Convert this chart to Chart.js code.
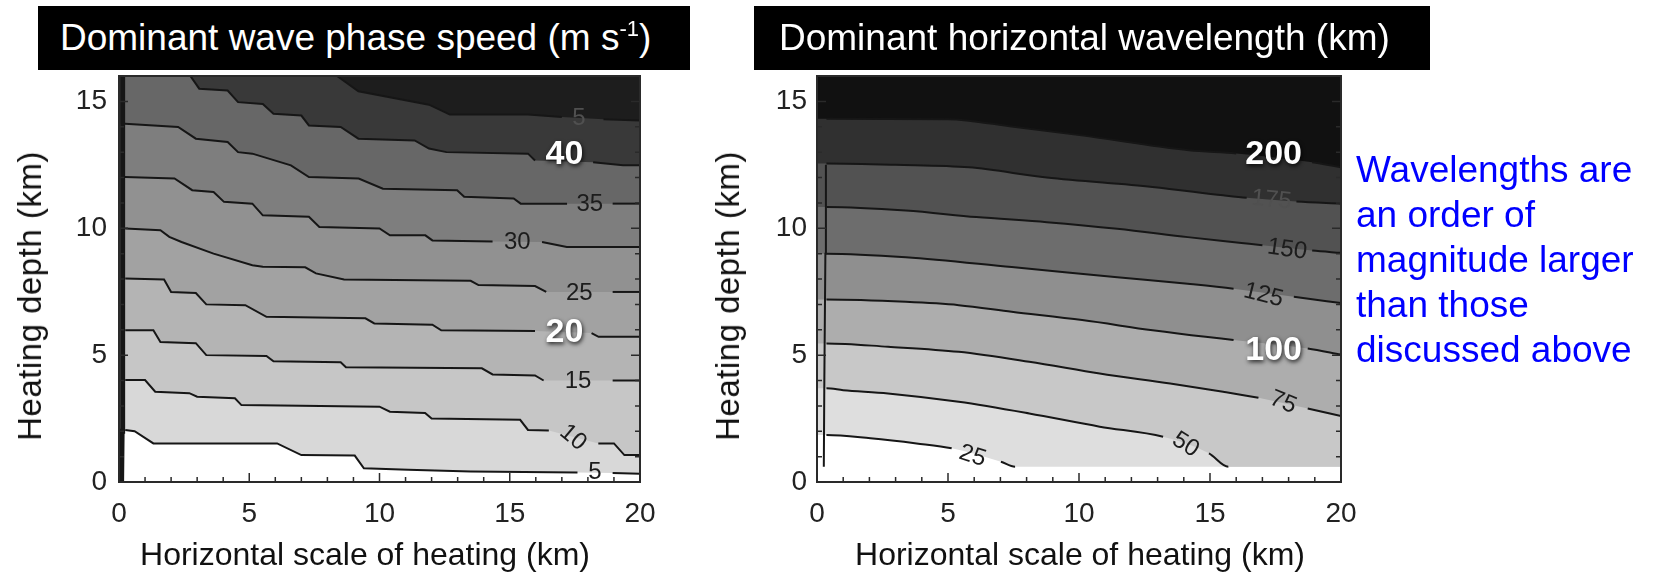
<!DOCTYPE html>
<html>
<head>
<meta charset="utf-8">
<script src="https://cdn.jsdelivr.net/npm/chart.js@4.4.1/dist/chart.umd.min.js"></script>
<style>
  html, body { margin:0; padding:0; background:#fff; }
  body { position:relative; width:1660px; height:580px; overflow:hidden; font-family:'Liberation Sans', Arial, sans-serif; }
  canvas { position:absolute; top:0; }
  .tb { position:absolute; top:6px; height:64px; background:#000; color:#fff; font-size:37px; line-height:64px; white-space:nowrap; box-sizing:border-box; }
  .sup { font-size:22px; position:relative; top:-14px; }
  .xt { position:absolute; font-size:32px; line-height:36px; color:#111; white-space:nowrap; transform:translateX(-50%); }
  .yt { position:absolute; font-size:33px; line-height:36px; color:#111; white-space:nowrap; letter-spacing:0.5px; transform:translate(-50%,-50%) rotate(-90deg); }
  .note { position:absolute; left:1356px; top:147px; font-size:37px; line-height:45px; color:#0000ff; white-space:nowrap; }
</style>
</head>
<body>
<canvas id="c1" width="700" height="580" style="left:0;width:700px;height:580px"></canvas>
<canvas id="c2" width="700" height="580" style="left:700px;width:700px;height:580px"></canvas>

<div class="tb" style="left:38px;width:652px;padding-left:22px;">Dominant wave phase speed (m s<span class="sup">-1</span>)</div>
<div class="tb" style="left:754px;width:676px;padding-left:25px;">Dominant horizontal wavelength (km)</div>

<div class="xt" style="left:365px;top:536px;">Horizontal scale of heating (km)</div>
<div class="xt" style="left:1080px;top:536px;">Horizontal scale of heating (km)</div>
<div class="yt" style="left:30px;top:296px;">Heating depth (km)</div>
<div class="yt" style="left:728px;top:296px;">Heating depth (km)</div>

<div class="note">Wavelengths are<br>an order of<br>magnitude larger<br>than those<br>discussed above</div>

<script>
// ---------- axes ----------
const xTickValues = [0, 5, 10, 15, 20];
const yTickValues = [0, 5, 10, 15];
const xRange = [0, 20];
const yRange = [0, 16];

// ---------- left panel: dominant wave phase speed (m/s) ----------
const speedLevels = [5, 10, 15, 20, 25, 30, 35, 40, 45];
const speedC5  = [[0,2.05],[0.24,2.05],[0.6,2.0],[1.32,1.52],[6.07,1.52],[7.0,1.06],[9.05,1.04],[9.4,0.54],[11.1,0.48],[13.5,0.41],[17.6,0.37],[18.95,0.35],[20,0.33]];
const speedC10 = [[0,4.02],[0.24,4.02],[1.0,4.02],[1.39,3.56],[2.7,3.5],[3.0,3.36],[4.45,3.3],[4.7,3.03],[10.0,2.97],[10.4,2.77],[11.75,2.72],[12.0,2.5],[15.4,2.45],[15.7,2.05],[16.5,2.03],[18.4,1.52],[19.0,1.52],[19.4,1.06],[20,1.06]];
const speedC15 = [[0,5.98],[0.24,5.98],[1.32,5.98],[1.59,5.52],[2.95,5.47],[3.35,5.0],[5.66,4.97],[5.93,4.76],[8.51,4.72],[8.71,4.52],[13.93,4.48],[14.34,4.24],[15.97,4.2],[16.3,4.0],[18.95,4.0],[20,4.0]];
const speedC20 = [[0,8.02],[0.24,8.02],[1.73,7.98],[2.0,7.49],[2.95,7.45],[3.35,7.0],[4.85,6.97],[5.66,6.51],[9.46,6.45],[9.8,6.25],[12.03,6.2],[12.37,5.98],[15.97,5.95],[18.14,5.87],[18.41,5.72],[20,5.72]];
const speedC25 = [[0,9.99],[0.24,9.99],[1.59,9.92],[1.93,9.66],[2.4,9.46],[3.63,9.0],[5.12,8.54],[5.52,8.48],[7.15,8.46],[7.56,8.22],[8.64,7.98],[13.5,7.93],[13.8,7.76],[15.97,7.72],[16.4,7.49],[18.95,7.49],[20,7.49]];
const speedC30 = [[0,12.02],[0.23,12.02],[2.13,11.96],[2.81,11.5],[3.63,11.43],[4.03,11.04],[5.12,10.97],[5.52,10.51],[7.29,10.45],[7.69,10.05],[10.0,9.99],[10.4,9.72],[11.76,9.72],[12.03,9.52],[14.34,9.48],[16.24,9.46],[17.19,9.26],[20,9.26]];
const speedC35 = [[0,14.12],[0.23,14.12],[2.27,13.99],[2.95,13.53],[4.17,13.4],[4.57,13.0],[5.12,12.94],[6.6,12.48],[7.29,12.02],[9.2,11.96],[10.13,11.56],[12.98,11.5],[13.25,11.24],[15.15,11.17],[15.42,10.97],[17.2,10.97],[18.95,10.97],[20,10.97]];
const speedC40 = [[2.74,16],[3.08,15.5],[4.17,15.43],[4.57,14.97],[5.52,14.9],[5.93,14.51],[7.0,14.44],[7.29,14.05],[8.51,13.99],[9.19,13.53],[11.35,13.46],[11.9,13.14],[12.57,13.0],[15.7,12.94],[15.97,12.67],[18.2,12.6],[19.35,12.48],[20,12.48]];
const speedC45 = [[8.37,16],[9.19,15.4],[11.9,14.87],[12.7,14.48],[15.7,14.48],[17.0,14.38],[18.6,14.3],[20,14.25]];
const speedContours = [speedC5, speedC10, speedC15, speedC20, speedC25, speedC30, speedC35, speedC40, speedC45];
const speedGaps = [[17.6,18.95],[16.5,18.4],[16.3,18.95],[15.97,18.14],[16.4,18.95],[14.34,16.24],[17.2,18.95],[15.97,18.2],[17.0,18.6]];
const speedEdge = [[0.1,0.0],[0.12,2.0],[0.14,5.5],[0.14,16]];
const speedLabels = [['5',18.27,0.4,0],['10',17.45,1.78,40],['15',17.62,4.0,0],['25',17.67,7.49,0],['30',15.29,9.47,0],['35',18.07,11.0,0],['5',17.66,14.38,0]];
const speedHighlights = [['40',17.1,12.93],['20',17.1,5.93]];

// ---------- right panel: dominant horizontal wavelength (km) ----------
const waveLevels = [25, 50, 75, 100, 125, 150, 175, 200];
const waveC25  = [[0,1.85],[0.36,1.85],[2.04,1.72],[3.8,1.52],[5.14,1.33],[7.02,0.8],[7.56,0.6]];
const waveC50  = [[0,3.69],[0.36,3.69],[1.0,3.62],[2.71,3.49],[5.41,3.16],[8.1,2.7],[10.79,2.18],[13.21,1.78],[14.96,1.13],[15.7,0.6]];
const waveC75  = [[0,5.46],[0.36,5.46],[2.71,5.33],[5.41,5.13],[8.1,4.74],[10.79,4.28],[13.48,3.88],[15.5,3.56],[16.85,3.32],[18.73,2.9],[20,2.6]];
const waveC100 = [[0,7.19],[0.36,7.19],[3.39,7.1],[5.41,6.97],[7.43,6.71],[10.12,6.38],[12.81,5.98],[14.83,5.72],[15.9,5.6],[18.73,5.26],[20,5.02]];
const waveC125 = [[0,9.0],[0.36,9.0],[3.39,8.86],[7.43,8.47],[11.46,8.07],[14.15,7.81],[15.9,7.62],[18.2,7.3],[20,7.05]];
const waveC150 = [[0,10.84],[0.36,10.84],[3.39,10.7],[6.08,10.44],[8.77,10.24],[11.46,9.98],[14.15,9.65],[16.2,9.42],[17.0,9.33],[18.9,9.12],[20,9.03]];
const waveC175 = [[0,12.55],[0.36,12.55],[3.0,12.5],[5.8,12.4],[8.77,12.0],[12.8,11.63],[15.5,11.3],[16.4,11.2],[18.3,11.05],[20,10.97]];
const waveC200 = [[0,14.32],[0.36,14.32],[5.0,14.3],[7.5,14.0],[10.1,13.66],[14.2,13.07],[16.0,12.95],[18.9,12.6],[20,12.4]];
const waveContours = [waveC25, waveC50, waveC75, waveC100, waveC125, waveC150, waveC175, waveC200];
const waveGaps = [[5.14,7.02],[13.21,14.96],[16.85,18.73],[15.9,18.73],[15.9,18.2],[17.0,18.9],[16.4,18.3],[16.0,18.9]];
const waveFloor = 0.6;
const waveEdge = [[0.26,0.6],[0.28,4.0],[0.32,9.0],[0.34,12.5]];
const waveLabels = [['25',5.95,1.06,18],['50',14.09,1.5,32],['75',17.8,3.18,22],['125',17.05,7.4,14],['150',17.95,9.2,8],['175',17.35,11.15,6]];
const waveHighlights = [['200',17.43,12.93],['100',17.43,5.22]];

// ---------- styles ----------
const speedBandColors = ['#d8d8d8','#c6c6c6','#b4b4b4','#a2a2a2','#919191','#7e7e7e','#676767','#393939','#1d1d1d'];
const waveBandColors  = ['#dedede','#c8c8c8','#adadad','#8f8f8f','#6d6d6d','#525252','#303030','#111111'];
const LINE = '#161616';
const FONT = "'Liberation Sans', Arial, sans-serif";
Chart.defaults.font.family = FONT;

const TRANSPARENT = 'rgba(0,0,0,0)';

// Each contour gives two datasets: a fill-only band (filled up to the top of the
// plot) and a stroke-only contour line with gaps where its label sits.
function contourDatasets(levels, contours, gaps, colors, edgeX, floorY, smooth) {
  const n = levels.length;
  const out = [];
  contours.forEach((pts, i) => {
    const data = pts.map(p => ({ x: p[0], y: p[1] }));
    if (floorY !== null && pts[pts.length - 1][1] <= floorY + 1e-9) data.push({ x: xRange[1], y: floorY });
    const gap = gaps[i];
    const common = {
      data, showLine: true, pointRadius: 0, pointHoverRadius: 0, tension: 0,
      cubicInterpolationMode: smooth ? 'monotone' : 'default'
    };
    out.push(Object.assign({}, common, {
      label: 'band ' + levels[i],
      borderWidth: 0, borderColor: TRANSPARENT,
      backgroundColor: colors[i], fill: 'end',
      order: 2 * (n - i) + 2
    }));
    out.push(Object.assign({}, common, {
      label: String(levels[i]),
      borderWidth: 2, borderColor: LINE, fill: false,
      order: 2 * (n - i) + 1,
      segment: {
        borderColor: ctx => {
          const a = ctx.p0.parsed, b = ctx.p1.parsed;
          if (b.x <= edgeX) return TRANSPARENT;
          if (floorY !== null && a.y <= floorY + 1e-9 && b.y <= floorY + 1e-9) return TRANSPARENT;
          if (gap && a.x >= gap[0] - 1e-6 && b.x <= gap[1] + 1e-6) return TRANSPARENT;
          return undefined;
        }
      }
    }));
  });
  return out;
}

function edgeDataset(pts, width) {
  return {
    label: 'edge', data: pts.map(p => ({ x: p[0], y: p[1] })), showLine: true,
    pointRadius: 0, borderWidth: width, borderColor: LINE, fill: false, order: 0
  };
}

function annotationPlugin(labels, highlights, dimAbove) {
  return {
    id: 'contourText',
    afterDatasetsDraw(chart) {
      const { ctx, chartArea: a, scales: { x, y } } = chart;
      ctx.save();
      // frame
      ctx.strokeStyle = '#2a2a2a';
      ctx.lineWidth = 2;
      ctx.strokeRect(a.left, a.top, a.right - a.left, a.bottom - a.top);
      // inward tick marks
      ctx.lineWidth = 1.5;
      ctx.beginPath();
      for (let v = xRange[0]; v <= xRange[1]; v++) {
        const px = x.getPixelForValue(v);
        const len = v % 5 === 0 ? 9 : 5;
        ctx.moveTo(px, a.bottom); ctx.lineTo(px, a.bottom - len);
      }
      for (let v = yRange[0]; v <= yRange[1]; v++) {
        const py = y.getPixelForValue(v);
        const len = v % 5 === 0 ? 9 : 5;
        ctx.moveTo(a.left, py); ctx.lineTo(a.left + len, py);
        ctx.moveTo(a.right, py); ctx.lineTo(a.right - len, py);
      }
      ctx.stroke();
      // contour labels
      ctx.textAlign = 'center';
      ctx.textBaseline = 'middle';
      labels.forEach(([t, vx, vy, rot]) => {
        ctx.save();
        ctx.translate(x.getPixelForValue(vx), y.getPixelForValue(vy));
        ctx.rotate(rot * Math.PI / 180);
        ctx.font = "24px " + FONT;
        ctx.fillStyle = vy > dimAbove ? '#505050' : '#1c1c1c';
        ctx.fillText(t, 0, 1);
        ctx.restore();
      });
      // highlighted white labels
      highlights.forEach(([t, vx, vy]) => {
        ctx.save();
        ctx.font = "bold 34px " + FONT;
        ctx.fillStyle = '#ffffff';
        ctx.shadowColor = 'rgba(0,0,0,0.8)';
        ctx.shadowBlur = 4;
        ctx.shadowOffsetX = 1;
        ctx.shadowOffsetY = 2;
        ctx.fillText(t, x.getPixelForValue(vx), y.getPixelForValue(vy) + 1);
        ctx.restore();
      });
      ctx.restore();
    }
  };
}

function makeChart(id, datasets, yWidth, rightPad, yPad, labels, highlights, dimAbove) {
  return new Chart(document.getElementById(id), {
    type: 'scatter',
    data: { datasets },
    options: {
      responsive: false,
      animation: false,
      devicePixelRatio: 1,
      events: [],
      layout: { padding: { left: 0, top: 76, right: rightPad, bottom: 0 } },
      plugins: { legend: { display: false }, tooltip: { enabled: false }, title: { display: false } },
      scales: {
        x: {
          type: 'linear', min: xRange[0], max: xRange[1],
          grid: { display: false, drawTicks: false },
          border: { display: false },
          ticks: { font: { size: 28, family: FONT }, color: '#222', padding: 15, maxRotation: 0 },
          afterBuildTicks: s => { s.ticks = xTickValues.map(v => ({ value: v })); },
          afterFit: s => { s.height = 98; }
        },
        y: {
          type: 'linear', min: yRange[0], max: yRange[1],
          grid: { display: false, drawTicks: false },
          border: { display: false },
          ticks: { font: { size: 28, family: FONT }, color: '#222', padding: yPad },
          afterBuildTicks: s => { s.ticks = yTickValues.map(v => ({ value: v })); },
          afterFit: s => { s.width = yWidth; }
        }
      }
    },
    plugins: [annotationPlugin(labels, highlights, dimAbove)]
  });
}

const speedSets = contourDatasets(speedLevels, speedContours, speedGaps, speedBandColors, 0.25, null, false);
speedSets.push(edgeDataset(speedEdge, 5));
makeChart('c1', speedSets, 119, 60, 12, speedLabels, speedHighlights, 14);

const waveSets = contourDatasets(waveLevels, waveContours, waveGaps, waveBandColors, 0.37, waveFloor, true);
waveSets.push(edgeDataset(waveEdge, 2));
makeChart('c2', waveSets, 117, 59, 10, waveLabels, waveHighlights, 10.5);
</script>
</body>
</html>
